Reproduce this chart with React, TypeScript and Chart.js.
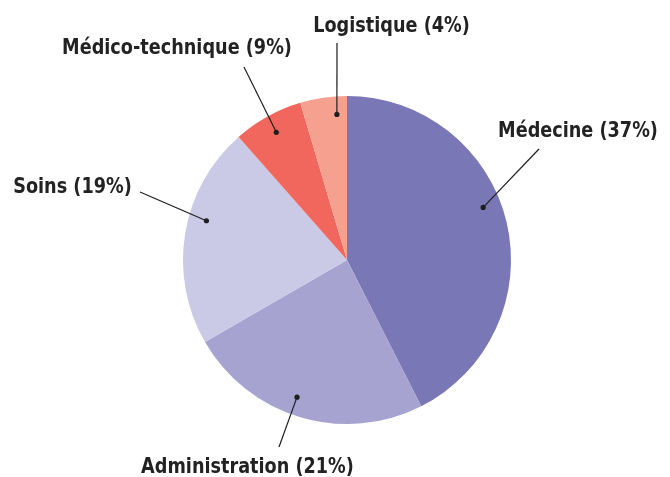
import React, { useEffect, useRef } from "react";
import { Chart, registerables } from "chart.js";

Chart.register(...registerables);

const categories = ["Médecine", "Administration", "Soins", "Médico-technique", "Logistique"];
const sliceValues = [37, 21, 19, 6, 4];
const labelTexts = ["Médecine (37%)", "Administration (21%)", "Soins (19%)", "Médico-technique (9%)", "Logistique (4%)"];
const sliceColors = ["#7a77b7", "#a7a3d0", "#cbcae6", "#f1675d", "#f6a08f"];

// callout layout: fraction along the slice for the dot, line end & text centre relative to pie centre
const calloutFrac = [0.45, 0.54, 0.58, 0.5, 0.76];
const calloutLineEnd: [number, number][] = [[192, -111], [-68, 187], [-207, -68], [-103, -193], [-10, -217]];
const calloutTextCenter: [number, number][] = [[231, -123], [-99.5, 213], [-274.5, -67], [-170, -206], [44.5, -228]];

const calloutPlugin = {
  id: "callouts",
  afterDraw(chart: any) {
    const meta = chart.getDatasetMeta(0);
    const ctx = chart.ctx;
    ctx.save();
    meta.data.forEach((arc: any, i: number) => {
      const { x, y, startAngle, endAngle, outerRadius } = arc.getProps(["x", "y", "startAngle", "endAngle", "outerRadius"], true);
      const a = startAngle + calloutFrac[i] * (endAngle - startAngle);
      const r = outerRadius * 0.89;
      const dx = x + Math.cos(a) * r;
      const dy = y + Math.sin(a) * r;
      const [lx, ly] = calloutLineEnd[i];
      ctx.strokeStyle = "#1e1e1e";
      ctx.lineWidth = 1.2;
      ctx.beginPath();
      ctx.moveTo(dx, dy);
      ctx.lineTo(x + lx, y + ly);
      ctx.stroke();
      ctx.fillStyle = "#1e1e1e";
      ctx.beginPath();
      ctx.arc(dx, dy, 2.6, 0, Math.PI * 2);
      ctx.fill();
      const [tx, ty] = calloutTextCenter[i];
      ctx.save();
      ctx.translate(x + tx, y + ty);
      ctx.scale(0.935, 1);
      ctx.font = "bold 21px 'Liberation Sans Narrow', 'DejaVu Sans Condensed', sans-serif";
      ctx.textAlign = "center";
      ctx.textBaseline = "alphabetic";
      ctx.fillStyle = "#222222";
      ctx.fillText(labelTexts[i], 0, 0);
      ctx.restore();
    });
    ctx.restore();
  },
};

export default function App() {
  const canvasRef = useRef<HTMLCanvasElement | null>(null);

  useEffect(() => {
    document.body.style.margin = "0";
    const canvas = canvasRef.current;
    if (!canvas) return;
    const chart = new Chart(canvas, {
      type: "pie",
      data: {
        labels: categories,
        datasets: [
          {
            data: sliceValues,
            backgroundColor: sliceColors,
            borderWidth: 0,
          },
        ],
      },
      options: {
        responsive: false,
        animation: false,
        layout: { padding: { left: 183, right: 159, top: 96, bottom: 53 } },
        plugins: {
          legend: { display: false },
          tooltip: { enabled: false },
        },
      },
      plugins: [calloutPlugin],
    });
    return () => chart.destroy();
  }, []);

  return (
    <div style={{ width: 670, height: 477, background: "#ffffff" }}>
      <canvas ref={canvasRef} width={670} height={477} style={{ display: "block" }} />
    </div>
  );
}
